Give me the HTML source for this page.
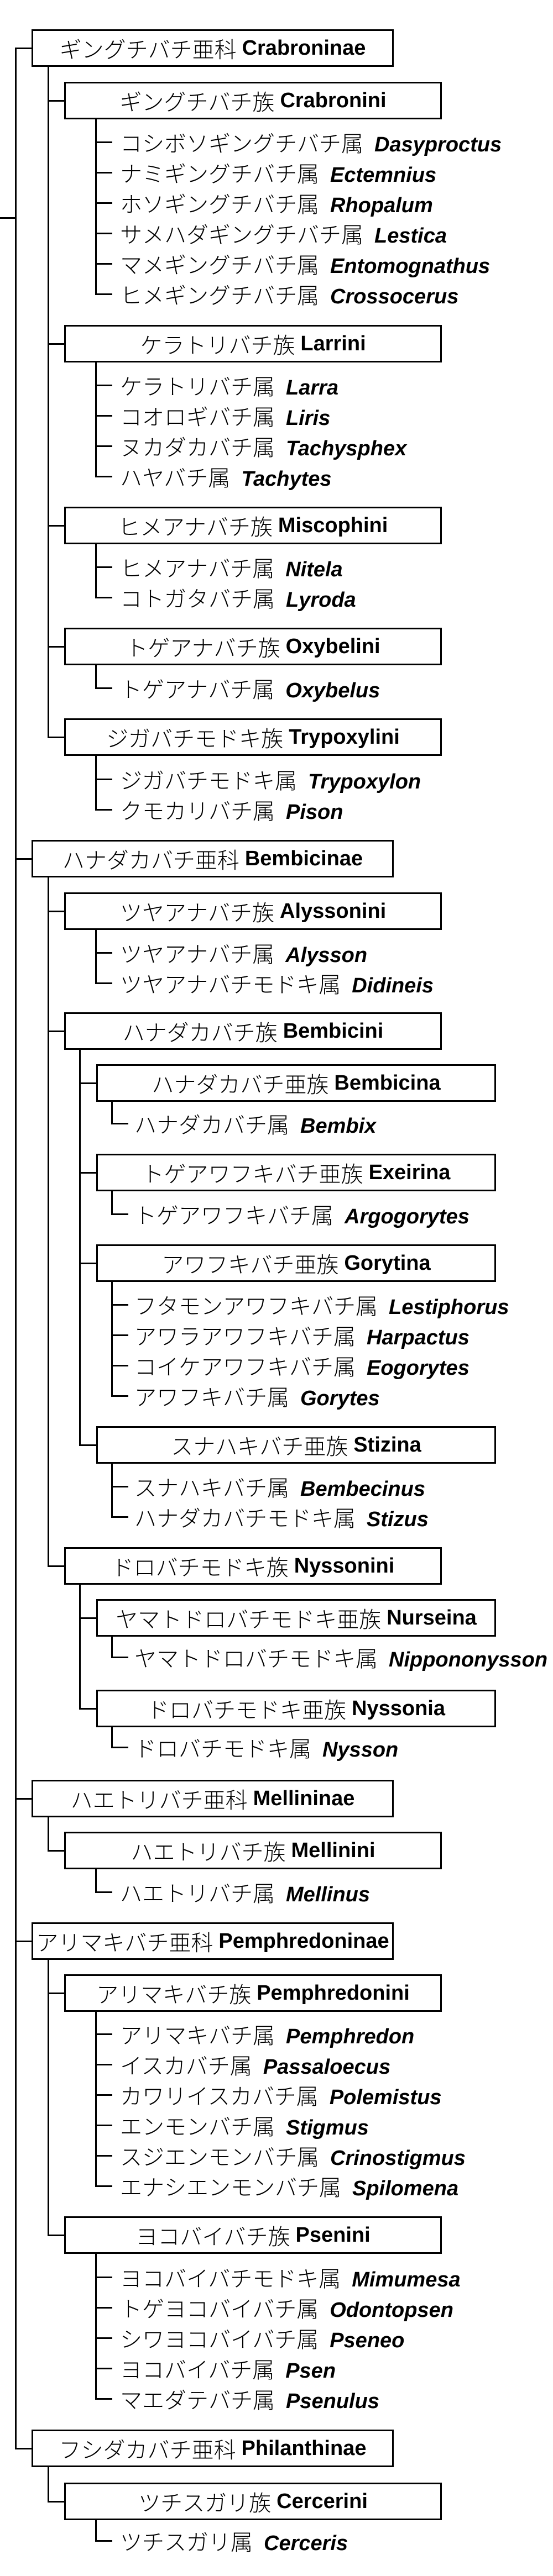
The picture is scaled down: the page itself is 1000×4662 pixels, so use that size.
<!DOCTYPE html>
<html><head><meta charset="utf-8"><style>
html,body{margin:0;padding:0;background:#fff}
body{width:1000px;height:4662px;position:relative;overflow:hidden;font-family:"Liberation Sans","Noto Sans CJK JP",sans-serif;color:#000}
.v{position:absolute;width:3px;background:#000}
.h{position:absolute;height:3px;background:#000}
.b{position:absolute;height:68px;border:3px solid #000;box-sizing:border-box;display:flex;align-items:center;justify-content:center;white-space:nowrap;font-size:40px;background:#fff}
.b span,.g span{font-family:"Noto Sans CJK JP",sans-serif;font-weight:300}
.b b{font-family:"Liberation Sans",sans-serif;font-weight:bold;font-size:38px;margin-left:10px}
.s{left:57px;width:655px}
.t{left:116px;width:683px}
.u{left:174px;width:723px}
.g{position:absolute;height:50px;line-height:50px;font-size:40px;white-space:nowrap}
.g i{font-family:"Liberation Sans",sans-serif;font-weight:bold;font-style:italic;font-size:38px;margin-left:20px}
</style></head><body>

<!-- root -->
<div class="v" style="left:27px;top:86px;height:4346px"></div>
<div class="h" style="left:0;top:393px;width:29px"></div>

<!-- ===== Crabroninae ===== -->
<div class="h" style="left:27px;top:86px;width:31px"></div>
<div class="b s" style="top:53px"><span>ギングチバチ亜科</span><b>Crabroninae</b></div>
<div class="v" style="left:86px;top:121px;height:1215px"></div>

<div class="h" style="left:86px;top:181px;width:31px"></div>
<div class="b t" style="top:148px"><span>ギングチバチ族</span><b>Crabronini</b></div>
<div class="v" style="left:172px;top:216px;height:318px"></div>
<div class="h" style="left:172px;top:256px;width:31px"></div><div class="g" style="left:217px;top:232px"><span>コシボソギングチバチ属</span><i>Dasyproctus</i></div>
<div class="h" style="left:172px;top:311px;width:31px"></div><div class="g" style="left:217px;top:287px"><span>ナミギングチバチ属</span><i>Ectemnius</i></div>
<div class="h" style="left:172px;top:366px;width:31px"></div><div class="g" style="left:217px;top:342px"><span>ホソギングチバチ属</span><i>Rhopalum</i></div>
<div class="h" style="left:172px;top:421px;width:31px"></div><div class="g" style="left:217px;top:397px"><span>サメハダギングチバチ属</span><i>Lestica</i></div>
<div class="h" style="left:172px;top:476px;width:31px"></div><div class="g" style="left:217px;top:452px"><span>マメギングチバチ属</span><i>Entomognathus</i></div>
<div class="h" style="left:172px;top:531px;width:31px"></div><div class="g" style="left:217px;top:507px"><span>ヒメギングチバチ属</span><i>Crossocerus</i></div>

<div class="h" style="left:86px;top:621px;width:31px"></div>
<div class="b t" style="top:588px"><span>ケラトリバチ族</span><b>Larrini</b></div>
<div class="v" style="left:172px;top:656px;height:208px"></div>
<div class="h" style="left:172px;top:696px;width:31px"></div><div class="g" style="left:217px;top:672px"><span>ケラトリバチ属</span><i>Larra</i></div>
<div class="h" style="left:172px;top:751px;width:31px"></div><div class="g" style="left:217px;top:727px"><span>コオロギバチ属</span><i>Liris</i></div>
<div class="h" style="left:172px;top:806px;width:31px"></div><div class="g" style="left:217px;top:782px"><span>ヌカダカバチ属</span><i>Tachysphex</i></div>
<div class="h" style="left:172px;top:861px;width:31px"></div><div class="g" style="left:217px;top:837px"><span>ハヤバチ属</span><i>Tachytes</i></div>

<div class="h" style="left:86px;top:950px;width:31px"></div>
<div class="b t" style="top:917px"><span>ヒメアナバチ族</span><b>Miscophini</b></div>
<div class="v" style="left:172px;top:985px;height:98px"></div>
<div class="h" style="left:172px;top:1025px;width:31px"></div><div class="g" style="left:217px;top:1001px"><span>ヒメアナバチ属</span><i>Nitela</i></div>
<div class="h" style="left:172px;top:1080px;width:31px"></div><div class="g" style="left:217px;top:1056px"><span>コトガタバチ属</span><i>Lyroda</i></div>

<div class="h" style="left:86px;top:1169px;width:31px"></div>
<div class="b t" style="top:1136px"><span>トゲアナバチ族</span><b>Oxybelini</b></div>
<div class="v" style="left:172px;top:1204px;height:43px"></div>
<div class="h" style="left:172px;top:1244px;width:31px"></div><div class="g" style="left:217px;top:1220px"><span>トゲアナバチ属</span><i>Oxybelus</i></div>

<div class="h" style="left:86px;top:1333px;width:31px"></div>
<div class="b t" style="top:1300px"><span>ジガバチモドキ族</span><b>Trypoxylini</b></div>
<div class="v" style="left:172px;top:1368px;height:99px"></div>
<div class="h" style="left:172px;top:1409px;width:31px"></div><div class="g" style="left:217px;top:1385px"><span>ジガバチモドキ属</span><i>Trypoxylon</i></div>
<div class="h" style="left:172px;top:1464px;width:31px"></div><div class="g" style="left:217px;top:1440px"><span>クモカリバチ属</span><i>Pison</i></div>

<!-- ===== Bembicinae ===== -->
<div class="h" style="left:27px;top:1553px;width:31px"></div>
<div class="b s" style="top:1520px"><span>ハナダカバチ亜科</span><b>Bembicinae</b></div>
<div class="v" style="left:86px;top:1588px;height:1248px"></div>

<div class="h" style="left:86px;top:1648px;width:31px"></div>
<div class="b t" style="top:1615px"><span>ツヤアナバチ族</span><b>Alyssonini</b></div>
<div class="v" style="left:172px;top:1683px;height:98px"></div>
<div class="h" style="left:172px;top:1723px;width:31px"></div><div class="g" style="left:217px;top:1699px"><span>ツヤアナバチ属</span><i>Alysson</i></div>
<div class="h" style="left:172px;top:1778px;width:31px"></div><div class="g" style="left:217px;top:1754px"><span>ツヤアナバチモドキ属</span><i>Didineis</i></div>

<div class="h" style="left:86px;top:1865px;width:31px"></div>
<div class="b t" style="top:1832px"><span>ハナダカバチ族</span><b>Bembicini</b></div>
<div class="v" style="left:143px;top:1900px;height:716px"></div>

<div class="h" style="left:143px;top:1959px;width:32px"></div>
<div class="b u" style="top:1926px"><span>ハナダカバチ亜族</span><b>Bembicina</b></div>
<div class="v" style="left:201px;top:1994px;height:41px"></div>
<div class="h" style="left:201px;top:2032px;width:31px"></div><div class="g" style="left:243px;top:2008px"><span>ハナダカバチ属</span><i>Bembix</i></div>

<div class="h" style="left:143px;top:2121px;width:32px"></div>
<div class="b u" style="top:2088px"><span>トゲアワフキバチ亜族</span><b>Exeirina</b></div>
<div class="v" style="left:201px;top:2156px;height:42px"></div>
<div class="h" style="left:201px;top:2196px;width:31px"></div><div class="g" style="left:243px;top:2172px"><span>トゲアワフキバチ属</span><i>Argogorytes</i></div>

<div class="h" style="left:143px;top:2285px;width:32px"></div>
<div class="b u" style="top:2252px"><span>アワフキバチ亜族</span><b>Gorytina</b></div>
<div class="v" style="left:201px;top:2320px;height:208px"></div>
<div class="h" style="left:201px;top:2360px;width:31px"></div><div class="g" style="left:243px;top:2336px"><span>フタモンアワフキバチ属</span><i>Lestiphorus</i></div>
<div class="h" style="left:201px;top:2415px;width:31px"></div><div class="g" style="left:243px;top:2391px"><span>アワラアワフキバチ属</span><i>Harpactus</i></div>
<div class="h" style="left:201px;top:2470px;width:31px"></div><div class="g" style="left:243px;top:2446px"><span>コイケアワフキバチ属</span><i>Eogorytes</i></div>
<div class="h" style="left:201px;top:2525px;width:31px"></div><div class="g" style="left:243px;top:2501px"><span>アワフキバチ属</span><i>Gorytes</i></div>

<div class="h" style="left:143px;top:2614px;width:32px"></div>
<div class="b u" style="top:2581px"><span>スナハキバチ亜族</span><b>Stizina</b></div>
<div class="v" style="left:201px;top:2649px;height:98px"></div>
<div class="h" style="left:201px;top:2689px;width:31px"></div><div class="g" style="left:243px;top:2665px"><span>スナハキバチ属</span><i>Bembecinus</i></div>
<div class="h" style="left:201px;top:2744px;width:31px"></div><div class="g" style="left:243px;top:2720px"><span>ハナダカバチモドキ属</span><i>Stizus</i></div>

<div class="h" style="left:86px;top:2833px;width:31px"></div>
<div class="b t" style="top:2800px"><span>ドロバチモドキ族</span><b>Nyssonini</b></div>
<div class="v" style="left:143px;top:2868px;height:226px"></div>

<div class="h" style="left:143px;top:2927px;width:32px"></div>
<div class="b u" style="top:2894px"><span>ヤマトドロバチモドキ亜族</span><b>Nurseina</b></div>
<div class="v" style="left:201px;top:2962px;height:39px"></div>
<div class="h" style="left:201px;top:2998px;width:31px"></div><div class="g" style="left:243px;top:2974px"><span>ヤマトドロバチモドキ属</span><i>Nippononysson</i></div>

<div class="h" style="left:143px;top:3091px;width:32px"></div>
<div class="b u" style="top:3058px"><span>ドロバチモドキ亜族</span><b>Nyssonia</b></div>
<div class="v" style="left:201px;top:3126px;height:38px"></div>
<div class="h" style="left:201px;top:3161px;width:31px"></div><div class="g" style="left:243px;top:3137px"><span>ドロバチモドキ属</span><i>Nysson</i></div>

<!-- ===== Mellininae ===== -->
<div class="h" style="left:27px;top:3254px;width:31px"></div>
<div class="b s" style="top:3221px"><span>ハエトリバチ亜科</span><b>Mellininae</b></div>
<div class="v" style="left:86px;top:3289px;height:62px"></div>
<div class="h" style="left:86px;top:3348px;width:31px"></div>
<div class="b t" style="top:3315px"><span>ハエトリバチ族</span><b>Mellinini</b></div>
<div class="v" style="left:172px;top:3383px;height:43px"></div>
<div class="h" style="left:172px;top:3423px;width:31px"></div><div class="g" style="left:217px;top:3399px"><span>ハエトリバチ属</span><i>Mellinus</i></div>

<!-- ===== Pemphredoninae ===== -->
<div class="h" style="left:27px;top:3512px;width:31px"></div>
<div class="b s" style="top:3479px"><span>アリマキバチ亜科</span><b>Pemphredoninae</b></div>
<div class="v" style="left:86px;top:3547px;height:500px"></div>

<div class="h" style="left:86px;top:3606px;width:31px"></div>
<div class="b t" style="top:3573px"><span>アリマキバチ族</span><b>Pemphredonini</b></div>
<div class="v" style="left:172px;top:3641px;height:317px"></div>
<div class="h" style="left:172px;top:3680px;width:31px"></div><div class="g" style="left:217px;top:3656px"><span>アリマキバチ属</span><i>Pemphredon</i></div>
<div class="h" style="left:172px;top:3735px;width:31px"></div><div class="g" style="left:217px;top:3711px"><span>イスカバチ属</span><i>Passaloecus</i></div>
<div class="h" style="left:172px;top:3790px;width:31px"></div><div class="g" style="left:217px;top:3766px"><span>カワリイスカバチ属</span><i>Polemistus</i></div>
<div class="h" style="left:172px;top:3845px;width:31px"></div><div class="g" style="left:217px;top:3821px"><span>エンモンバチ属</span><i>Stigmus</i></div>
<div class="h" style="left:172px;top:3900px;width:31px"></div><div class="g" style="left:217px;top:3876px"><span>スジエンモンバチ属</span><i>Crinostigmus</i></div>
<div class="h" style="left:172px;top:3955px;width:31px"></div><div class="g" style="left:217px;top:3931px"><span>エナシエンモンバチ属</span><i>Spilomena</i></div>

<div class="h" style="left:86px;top:4044px;width:31px"></div>
<div class="b t" style="top:4011px"><span>ヨコバイバチ族</span><b>Psenini</b></div>
<div class="v" style="left:172px;top:4079px;height:264px"></div>
<div class="h" style="left:172px;top:4120px;width:31px"></div><div class="g" style="left:217px;top:4096px"><span>ヨコバイバチモドキ属</span><i>Mimumesa</i></div>
<div class="h" style="left:172px;top:4175px;width:31px"></div><div class="g" style="left:217px;top:4151px"><span>トゲヨコバイバチ属</span><i>Odontopsen</i></div>
<div class="h" style="left:172px;top:4230px;width:31px"></div><div class="g" style="left:217px;top:4206px"><span>シワヨコバイバチ属</span><i>Pseneo</i></div>
<div class="h" style="left:172px;top:4285px;width:31px"></div><div class="g" style="left:217px;top:4261px"><span>ヨコバイバチ属</span><i>Psen</i></div>
<div class="h" style="left:172px;top:4340px;width:31px"></div><div class="g" style="left:217px;top:4316px"><span>マエダテバチ属</span><i>Psenulus</i></div>

<!-- ===== Philanthinae ===== -->
<div class="h" style="left:27px;top:4430px;width:31px"></div>
<div class="b s" style="top:4397px"><span>フシダカバチ亜科</span><b>Philanthinae</b></div>
<div class="v" style="left:86px;top:4465px;height:64px"></div>
<div class="h" style="left:86px;top:4526px;width:31px"></div>
<div class="b t" style="top:4493px"><span>ツチスガリ族</span><b>Cercerini</b></div>
<div class="v" style="left:172px;top:4561px;height:39px"></div>
<div class="h" style="left:172px;top:4597px;width:31px"></div><div class="g" style="left:217px;top:4573px"><span>ツチスガリ属</span><i>Cerceris</i></div>

</body></html>
